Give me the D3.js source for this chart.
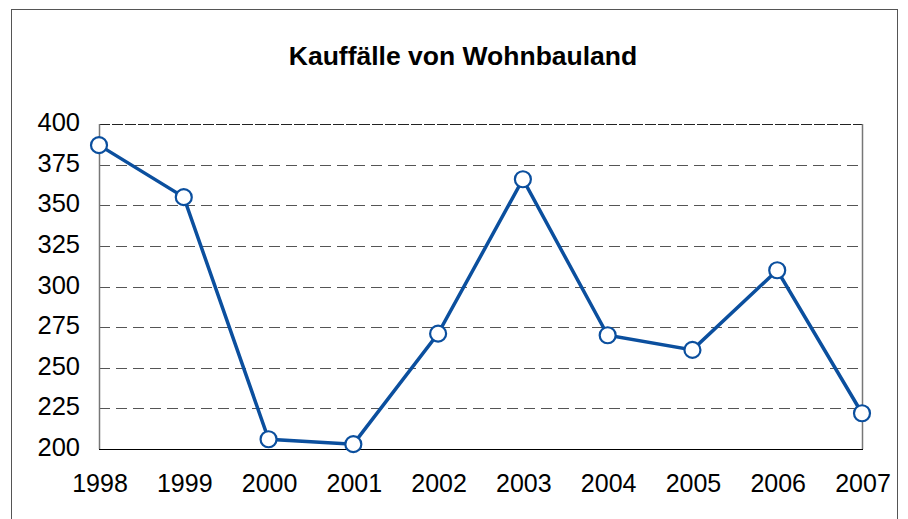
<!DOCTYPE html>
<html>
<head>
<meta charset="utf-8">
<script src="https://cdn.jsdelivr.net/npm/d3@7"></script>
<style>
  body { margin: 0; background: #fff; }
  svg { display: block; font-family: "Liberation Sans", Arial, sans-serif; }
</style>
</head>
<body>
<div id="chart"></div>
<script>
const title = "Kauffälle von Wohnbauland"
const years = ["1998", "1999", "2000", "2001", "2002", "2003", "2004", "2005", "2006", "2007"]
const values = [387, 355, 206, 203, 271, 366, 270, 261, 310, 222]
const yTicks = [200, 225, 250, 275, 300, 325, 350, 375, 400]

const width = 908, height = 519
const plotL = 99, plotR = 862, plotT = 124, plotB = 449

const svg = d3.select("#chart").append("svg")
    .attr("width", width)
    .attr("height", height)

// outer frame
svg.append("rect")
    .attr("x", 11.5).attr("y", 9.5)
    .attr("width", 886).attr("height", 520)
    .attr("fill", "none")
    .attr("stroke", "#555")
    .attr("stroke-width", 1)

svg.append("text")
    .attr("x", 463).attr("y", 65)
    .attr("text-anchor", "middle")
    .attr("font-size", 26.5)
    .attr("font-weight", "bold")
    .text(title)

const x = d3.scalePoint().domain(years).range([plotL, plotR])
const y = d3.scaleLinear().domain([200, 400]).range([plotB, plotT])

// grid lines
svg.append("g")
    .selectAll("line")
    .data(yTicks.filter(d => d > 200 && d < 400))
    .join("line")
    .attr("x1", plotL).attr("x2", plotR)
    .attr("y1", d => Math.round(y(d)) + 0.5)
    .attr("y2", d => Math.round(y(d)) + 0.5)
    .attr("stroke", "#555")
    .attr("stroke-dasharray", "11,6")

// plot border
svg.append("line")
    .attr("x1", plotL).attr("x2", plotR)
    .attr("y1", plotT + 0.5).attr("y2", plotT + 0.5)
    .attr("stroke", "#222")
    .attr("stroke-dasharray", "11,2")
svg.append("line")
    .attr("x1", plotR + 0.5).attr("x2", plotR + 0.5)
    .attr("y1", plotT).attr("y2", plotB)
    .attr("stroke", "#777").attr("stroke-width", 1.5)
svg.append("line")
    .attr("x1", plotL + 0.5).attr("x2", plotL + 0.5)
    .attr("y1", plotT).attr("y2", plotB)
    .attr("stroke", "#777").attr("stroke-width", 1.5)
svg.append("line")
    .attr("x1", plotL).attr("x2", plotR + 1)
    .attr("y1", plotB + 0.5).attr("y2", plotB + 0.5)
    .attr("stroke", "#000")

// y labels
svg.append("g")
    .selectAll("text")
    .data(yTicks)
    .join("text")
    .attr("x", 80)
    .attr("y", d => y(d) + 7)
    .attr("text-anchor", "end")
    .attr("font-size", 25.5)
    .text(d => d)

// x labels
svg.append("g")
    .selectAll("text")
    .data(years)
    .join("text")
    .attr("x", d => x(d) + 1)
    .attr("y", 492)
    .attr("text-anchor", "middle")
    .attr("font-size", 25)
    .text(d => d)

const data = years.map((d, i) => ({ year: d, value: values[i] }))

svg.append("path")
    .datum(data)
    .attr("fill", "none")
    .attr("stroke", "#0b4f9e")
    .attr("stroke-width", 3.5)
    .attr("d", d3.line().x(d => x(d.year)).y(d => y(d.value)))

svg.append("g")
    .selectAll("circle")
    .data(data)
    .join("circle")
    .attr("cx", d => x(d.year))
    .attr("cy", d => y(d.value))
    .attr("r", 8)
    .attr("fill", "#fff")
    .attr("stroke", "#0b4f9e")
    .attr("stroke-width", 2.2)
</script>
</body>
</html>
